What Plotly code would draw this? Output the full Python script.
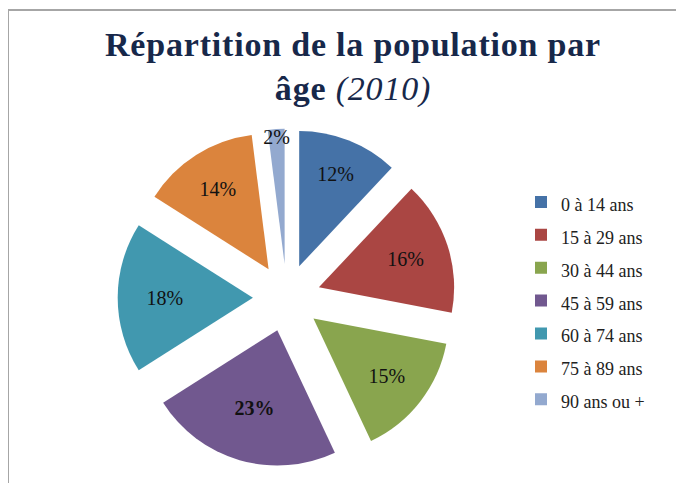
import plotly.graph_objects as go

# =========================
# DATA
# =========================

age_groups = ["0 à 14 ans", "15 à 29 ans", "30 à 44 ans", "45 à 59 ans",
              "60 à 74 ans", "75 à 89 ans", "90 ans ou +"]
shares = [12, 16, 15, 23, 18, 14, 2]
slice_colors = ["#4572A7", "#AA4643", "#89A54E", "#71588F",
                "#4198AF", "#DB843D", "#93A9CF"]
bold_group = "45 à 59 ans"

SERIF = "Liberation Serif, DejaVu Serif, serif"

# labels: big legend font gives the row spacing, span keeps the text small
legend_labels = [f'<span style="font-size:18px">{g}</span>' for g in age_groups]
text_tpl = ["<b>%{percent:.0%}</b>" if g == bold_group else "%{percent:.0%}"
            for g in age_groups]

# =========================
# FIGURE
# =========================

fig = go.Figure()

fig.add_trace(
    go.Pie(
        labels=legend_labels,
        values=shares,
        sort=False,
        direction="clockwise",
        rotation=0,
        pull=0.25,
        marker=dict(colors=slice_colors, line=dict(width=0)),
        texttemplate=text_tpl,
        textposition="inside",
        insidetextorientation="horizontal",
        textfont=dict(family=SERIF, size=20, color="#111111"),
        domain=dict(x=[0.160, 0.655], y=[0.05, 0.75]),
        hoverinfo="label+percent",
    )
)

title_txt = ('<span style="letter-spacing:0.8px"><b>Répartition de la population par</b></span><br>'
             '<span style="letter-spacing:0.8px"><b>âge</b> <i>(2010)</i></span>')

fig.update_layout(
    width=684,
    height=483,
    margin=dict(l=0, r=0, t=0, b=0),
    paper_bgcolor="white",
    plot_bgcolor="white",
    # keep the thin 2% label at full size
    uniformtext=dict(minsize=20, mode="show"),
    showlegend=True,
    legend=dict(
        x=0.75, y=0.643, xanchor="left", yanchor="top",
        font=dict(family=SERIF, size=23, color="#222222"),
        bgcolor="rgba(0,0,0,0)",
    ),
    annotations=[
        dict(
            text=title_txt,
            x=0.505, y=0.878, xref="paper", yref="paper",
            xanchor="center", yanchor="middle",
            showarrow=False, align="center",
            font=dict(family=SERIF, size=34, color="#17284A"),
        )
    ],
    shapes=[
        dict(type="line", xref="paper", yref="paper",
             x0=0.0, y0=0.0, x1=0.0, y1=0.996,
             line=dict(color="#A6A6A6", width=2)),
        dict(type="line", xref="paper", yref="paper",
             x0=0.0, y0=0.996, x1=1.0, y1=0.996,
             line=dict(color="#A6A6A6", width=2)),
    ],
)

fig.write_html("out.html")
